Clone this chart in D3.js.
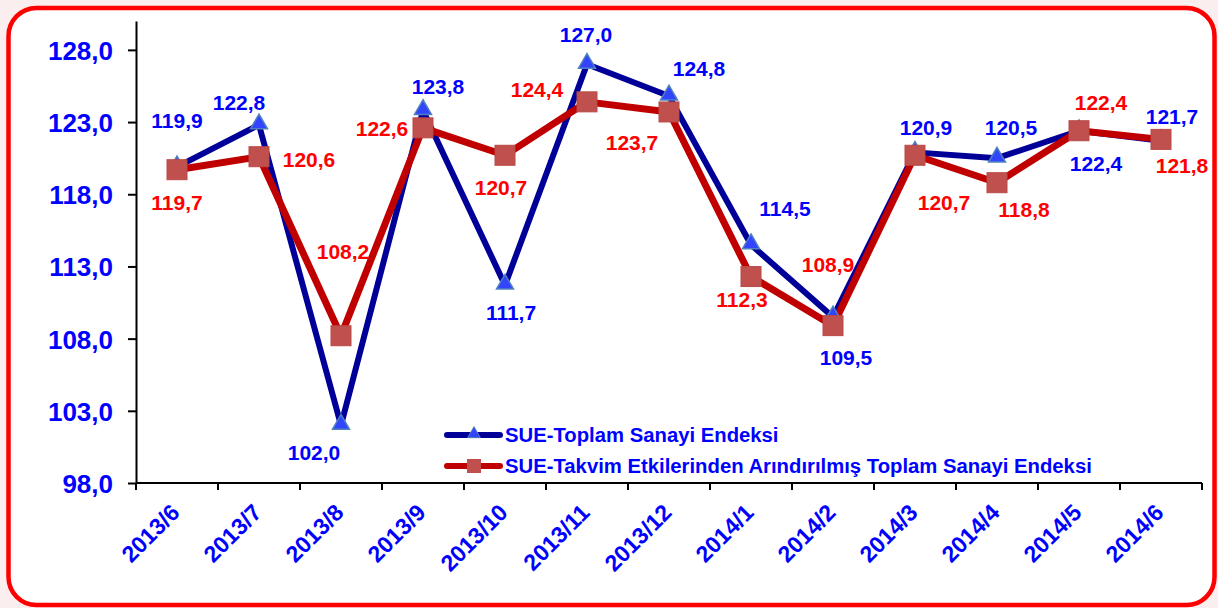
<!DOCTYPE html>
<html>
<head>
<meta charset="utf-8">
<script src="https://cdn.jsdelivr.net/npm/d3@7"></script>
<style>
  body { margin: 0; background: #fbeeee; }
  svg { display: block; font-family: Arial, "Liberation Sans", sans-serif; }
</style>
</head>
<body>
<div id="chart"></div>
<script>
// data
var months = ["2013/6", "2013/7", "2013/8", "2013/9", "2013/10", "2013/11", "2013/12",
              "2014/1", "2014/2", "2014/3", "2014/4", "2014/5", "2014/6"];
var toplam = [119.9, 122.8, 102.0, 123.8, 111.7, 127.0, 124.8, 114.5, 109.5, 120.9, 120.5, 122.4, 121.7];
var arindirilmis = [119.7, 120.6, 108.2, 122.6, 120.7, 124.4, 123.7, 112.3, 108.9, 120.7, 118.8, 122.4, 121.8];
var yTicks = [98, 103, 108, 113, 118, 123, 128];
var seriesNames = ["SUE-Toplam Sanayi Endeksi",
                   "SUE-Takvim Etkilerinden Arındırılmış Toplam Sanayi Endeksi"];

// label offsets (px) from each point
var blueOff = [[0, -46], [-20, -23], [-27, 27], [15, -24], [6, 27], [-1, -30], [30, -28],
               [34, -36], [13, 40], [11, -25], [14, -31], [17, 33], [11, -24]];
var redOff  = [[0, 33], [50, 3], [2, -84], [-41, 1], [-4, 32], [-50, -12], [-37, 30],
               [-9, 23], [-5, -61], [29, 47], [27, 27], [22, -28], [21, 26]];

var W = 1218, H = 608;
var fmt = function (v) { return v.toFixed(1).replace(".", ","); };

var svg = d3.select("#chart").append("svg").attr("width", W).attr("height", H);

svg.append("rect")
    .attr("x", 8.5).attr("y", 8).attr("width", 1206).attr("height", 597)
    .attr("rx", 28).attr("ry", 28)
    .attr("fill", "#fff").attr("stroke", "#ff0000").attr("stroke-width", 4.5);

var x = d3.scaleBand().domain(months).range([136, 1202]);
var y = d3.scaleLinear().domain([98, 130]).range([483, 21]);

// y axis
var yAxis = svg.append("g").attr("transform", "translate(136,0)")
    .call(d3.axisLeft(y).tickValues(yTicks).tickSize(8).tickSizeOuter(0).tickFormat(fmt));
yAxis.select(".domain").attr("stroke", "#000").attr("stroke-width", 2);
yAxis.selectAll(".tick line").attr("stroke", "#000").attr("stroke-width", 2);
yAxis.selectAll(".tick text")
    .attr("x", -23).attr("dy", "0.36em")
    .attr("fill", "#0000ff").style("font-size", "26px").style("font-weight", "bold");

// x axis, ticks on band edges
var xAxis = svg.append("g").attr("transform", "translate(0,483)");
xAxis.append("line").attr("x1", 136).attr("x2", 1202).attr("stroke", "#000").attr("stroke-width", 2);
var edges = months.map(function (m) { return x(m); }).concat([x.range()[1]]);
xAxis.selectAll("line.tk").data(edges).enter().append("line")
    .attr("class", "tk")
    .attr("x1", function (d) { return d; }).attr("x2", function (d) { return d; })
    .attr("y1", 0).attr("y2", 7)
    .attr("stroke", "#000").attr("stroke-width", 2);
xAxis.selectAll("text").data(months).enter().append("text")
    .attr("transform", function (d) {
        return "translate(" + (x(d) + x.bandwidth() / 2 + 4) + ",31) rotate(-45)";
    })
    .attr("text-anchor", "end")
    .attr("fill", "#0000ff").style("font-size", "23px").style("font-weight", "bold")
    .text(function (d) { return d; });

var cx = function (d, i) { return x(months[i]) + x.bandwidth() / 2; };
var line = d3.line().x(function (d, i) { return cx(d, i); }).y(function (d) { return y(d); });

svg.append("path").datum(toplam).attr("d", line)
    .attr("fill", "none").attr("stroke", "#000099").attr("stroke-width", 6)
    .attr("stroke-linejoin", "round");
svg.append("path").datum(arindirilmis).attr("d", line)
    .attr("fill", "none").attr("stroke", "#c00000").attr("stroke-width", 7)
    .attr("stroke-linejoin", "round");

var tri = d3.symbol().type(d3.symbolTriangle).size(125);
svg.selectAll("path.tri").data(toplam).enter().append("path")
    .attr("class", "tri")
    .attr("d", tri)
    .attr("transform", function (d, i) { return "translate(" + cx(d, i) + "," + (y(d) - 1) + ")"; })
    .attr("fill", "#3344ff").attr("stroke", "#4f81bd").attr("stroke-width", 1.5);

svg.selectAll("rect.sq").data(arindirilmis).enter().append("rect")
    .attr("class", "sq")
    .attr("x", function (d, i) { return cx(d, i) - 10; })
    .attr("y", function (d) { return y(d) - 10; })
    .attr("width", 20).attr("height", 20)
    .attr("fill", "#c0504d").attr("stroke", "#b84a47").attr("stroke-width", 1);

// data labels
svg.selectAll("text.lb").data(toplam).enter().append("text")
    .attr("class", "lb")
    .attr("x", function (d, i) { return cx(d, i) + blueOff[i][0]; })
    .attr("y", function (d, i) { return y(d) + blueOff[i][1]; })
    .attr("text-anchor", "middle").attr("dy", "0.36em")
    .attr("fill", "#0000ff").style("font-size", "21px").style("font-weight", "bold")
    .text(fmt);
svg.selectAll("text.lr").data(arindirilmis).enter().append("text")
    .attr("class", "lr")
    .attr("x", function (d, i) { return cx(d, i) + redOff[i][0]; })
    .attr("y", function (d, i) { return y(d) + redOff[i][1]; })
    .attr("text-anchor", "middle").attr("dy", "0.36em")
    .attr("fill", "#ff0000").style("font-size", "21px").style("font-weight", "bold")
    .text(fmt);

// legend
var legend = svg.append("g").attr("transform", "translate(445,435)");
legend.append("line").attr("x1", 2).attr("x2", 55).attr("stroke", "#000099").attr("stroke-width", 6).attr("stroke-linecap", "round");
legend.append("path").attr("d", d3.symbol().type(d3.symbolTriangle).size(70))
    .attr("transform", "translate(29,-1)")
    .attr("fill", "#3344ff").attr("stroke", "#4f81bd");
legend.append("line").attr("x1", 2).attr("x2", 55).attr("y1", 31).attr("y2", 31)
    .attr("stroke", "#c00000").attr("stroke-width", 6).attr("stroke-linecap", "round");
legend.append("rect").attr("x", 22).attr("y", 24).attr("width", 14).attr("height", 14)
    .attr("fill", "#c0504d");
legend.selectAll("text").data(seriesNames).enter().append("text")
    .attr("x", 60).attr("y", function (d, i) { return i * 31; }).attr("dy", "0.36em")
    .attr("fill", "#0000ff").style("font-size", "20.3px").style("font-weight", "bold")
    .text(function (d) { return d; });
</script>
</body>
</html>
